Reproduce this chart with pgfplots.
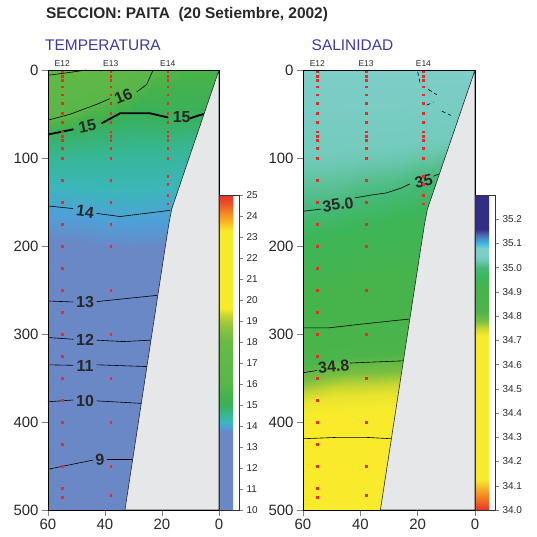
\documentclass[border=0pt]{standalone}
\usepackage{pgfplots}
\pgfplotsset{compat=1.18}
\usepackage{fontspec}
\setmainfont{Liberation Sans}
\definecolor{bathy}{RGB}{230,231,233}
\definecolor{ttl}{RGB}{62,58,155}
\definecolor{dotred}{RGB}{240,40,40}
\definecolor{txt}{RGB}{40,40,40}
\tikzset{
  clab/.style={font=\bfseries\fontsize{16}{16}\selectfont, text=txt, inner sep=0pt},
  stlab/.style={font=\fontsize{8.5}{8.5}\selectfont, text=txt, inner sep=0pt, anchor=base, yshift=3.5bp},
}
\pgfplotsset{
  colormap={temp}{rgb255(0cm)=(106,136,198) rgb255(3.75cm)=(106,136,198) rgb255(3.95cm)=(78,160,216) rgb255(4.2cm)=(60,182,185) rgb255(4.6cm)=(55,182,140) rgb255(5cm)=(58,176,90) rgb255(5.5cm)=(70,178,75) rgb255(6cm)=(88,183,72) rgb255(8cm)=(105,186,68) rgb255(8.8cm)=(150,196,60) rgb255(9.3cm)=(200,215,50) rgb255(9.6cm)=(246,234,42) rgb255(13.3cm)=(246,234,42) rgb255(13.7cm)=(249,185,33) rgb255(14.2cm)=(243,130,36) rgb255(14.6cm)=(237,80,40) rgb255(15cm)=(232,50,42)},
  colormap={sal}{rgb255(0cm)=(232,52,40) rgb255(0.4cm)=(240,110,35) rgb255(0.8cm)=(246,165,35) rgb255(1.2cm)=(247,225,45) rgb255(1.3cm)=(247,235,43) rgb255(7.2cm)=(247,235,43) rgb255(7.5cm)=(200,215,50) rgb255(7.8cm)=(120,190,65) rgb255(8.2cm)=(76,180,75) rgb255(9.2cm)=(70,180,75) rgb255(9.6cm)=(60,182,90) rgb255(10cm)=(70,185,120) rgb255(10.3cm)=(110,200,180) rgb255(10.5cm)=(124,206,200) rgb255(10.8cm)=(125,206,200) rgb255(11cm)=(60,185,230) rgb255(11.3cm)=(75,120,185) rgb255(11.6cm)=(50,45,135) rgb255(13cm)=(50,45,135)},
  sect/.style={
    scale only axis, height=440bp,
    xmin=0, xmax=60, ymin=0, ymax=500,
    x dir=reverse, y dir=reverse,
    xtick={0,20,40,60}, ytick={0,100,200,300,400,500},
    tick align=outside, tick pos=left,
    major tick length=6bp,
    tick style={gray, line width=0.7pt},
    ticklabel style={font=\fontsize{15}{15}\selectfont, text=txt},
    /pgf/number format/assume math mode=true,
    axis line style={black, line width=0.7pt},
    clip=false, axis on top,
  },
  cbar/.style={
    colorbar,
    colorbar style={
      scale only axis, width=20bp, height=315bp,
      at={(1,0)}, anchor=south west, xshift=0bp,
      ytick pos=right, tick align=outside, major tick length=4bp,
      tick style={gray, line width=0.5pt},
      yticklabel style={font=\fontsize{10}{10}\selectfont, text=txt},
      /pgf/number format/assume math mode=true,
      axis line style={black!80, line width=0.5pt},
    },
  },
  cl/.style={black, line width=0.6pt},
  cthick/.style={black, line width=1.8pt},
  cdash/.style={black, line width=0.6pt, dash pattern=on 4bp off 3bp},
  dots/.style={only marks, color=dotred, mark=square*, mark size=0.9bp, mark options={draw=none, fill=dotred}},
}
\begin{document}
\begin{tikzpicture}
\useasboundingbox (0bp,0bp) rectangle (537bp,537bp);
\node[anchor=base west, inner sep=0pt, font=\bfseries\fontsize{15.5}{16}\selectfont, text=txt] at (46bp,518bp) {SECCION: PAITA\ \ (20 Setiembre, 2002)};
\node[anchor=base west, inner sep=0pt, font=\fontsize{15.5}{16}\selectfont, text=ttl] at (45bp,486bp) {TEMPERATURA};
\node[anchor=base west, inner sep=0pt, font=\fontsize{15.5}{16}\selectfont, text=ttl] at (311.5bp,486bp) {SALINIDAD};

% ---------------- TEMPERATURA ----------------
\begin{axis}[sect, cbar, width=171bp, at={(48bp,27bp)}, anchor=south west,
  colormap name=temp, point meta min=10, point meta max=25,
  colorbar style={ytick={10,11,...,25}}]
\addplot[surf, shader=interp, point meta=explicit] table[x=x, y=d, meta=v] {
x d v
60 0 17.25
60 6 17
60 57 16
60 73 15
60 100 14.5
60 155 14
60 188 13.8
60 263 13
60 304 12
60 335 11
60 377 10
60 454 9
60 500 8.5

50 0 17.05
50 2 17
50 50 16
50 67 15
50 100 14.5
50 158 14
50 190 13.8
50 264 13
50 306 12
50 335.5 11
50 375.5 10
50 445 9
50 500 8.4

40 0 16.8
40 0 16.8
40 35 16
40 61 15
40 100 14.5
40 164 14
40 195 13.8
40 264 13
40 307 12
40 335 11
40 376 10
40 443 9
40 500 8.4

30 0 16.5
30 0 16.5
30 22 16
30 49 15
30 95 14.5
30 166 14
30 197 13.8
30 262 13
30 308 12
30 336 11
30 378 10
30 443 9
30 500 8.4

20 0 15.9
20 0 15.9
20 0 15.9
20 52 15
20 95 14.5
20 161 14
20 195 13.8
20 257 13
20 307 12
20 337 11
20 379 10
20 443 9
20 500 8.4

10 0 15.6
10 0 15.6
10 0 15.6
10 52 15
10 90 14.5
10 158 14
10 192 13.8
10 255 13
10 307 12
10 337 11
10 379 10
10 443 9
10 500 8.4

0 0 15.6
0 0 15.6
0 0 15.6
0 52 15
0 90 14.5
0 158 14
0 192 13.8
0 255 13
0 307 12
0 337 11
0 379 10
0 443 9
0 500 8.4
};
% contours
\addplot[cl] coordinates {(60,6) (53,3) (46.4,0)};
\addplot[cl] coordinates {(60,57) (52.3,50.3) (42.9,39) (38.2,32.5)};
\addplot[cl] coordinates {(28.9,25) (25.4,16.6) (23.1,0)};
\addplot[cthick] coordinates {(60,73.3) (51.1,67.4)};
\addplot[cthick] coordinates {(41.2,60.6) (34.7,49.2) (24.2,49.2) (17.8,54)};
\addplot[cthick] coordinates {(10.2,55) (7.5,52) (5.3,50)};
\addplot[cl] coordinates {(60,154.5) (51.1,157.5)};
\addplot[cl] coordinates {(42.9,163) (34.7,166.5) (17.2,159.5)};
\addplot[cl] coordinates {(60,262.5) (51.1,263.6)};
\addplot[cl] coordinates {(42.9,263.2) (21.5,256)};
\addplot[cl] coordinates {(60,304) (51.1,306)};
\addplot[cl] coordinates {(42.9,307) (33.6,308.6) (23.9,307)};
\addplot[cl] coordinates {(60,335) (51.1,335.6)};
\addplot[cl] coordinates {(42.9,335) (25.3,337)};
\addplot[cl] coordinates {(60,377) (51.1,375)};
\addplot[cl] coordinates {(42.9,376) (27.3,378.8)};
\addplot[cl] coordinates {(60,453.7) (44.1,443.2)};
\addplot[cl] coordinates {(39.4,442.6) (30.3,442.6)};
% bathymetry
\addplot[fill=bathy, draw=black!85, line width=0.6pt] coordinates {(0,0) (16.6,158) (17.6,175) (19,204) (33,500) (0,500) (0,0)};
% stations
\addplot[dots] coordinates {(55,2) (55,7) (55,12) (55,19) (55,28) (55,38) (55,49) (55,59) (55,70) (55,75) (55,80) (55,89) (55,100) (55,125) (55,150) (55,175) (55,200) (55,225) (55,250) (55,275) (55,300) (55,325) (55,350) (55,375) (55,400) (55,425) (55,450) (55,475) (55,485)};
\addplot[dots] coordinates {(38,2) (38,7) (38,12) (38,19) (38,28) (38,38) (38,49) (38,59) (38,70) (38,75) (38,80) (38,89) (38,100) (38,125) (38,150) (38,175) (38,200) (38,250) (38,300) (38,350) (38,400) (38,450) (38,483)};
\addplot[dots] coordinates {(18,2) (18,7) (18,12) (18,19) (18,28) (18,38) (18,49) (18,59) (18,70) (18,75) (18,80) (18,89) (18,100) (18,121) (18,130) (18,142) (18,152)};
\node[stlab] at (axis cs:55,0) {E12};
\node[stlab] at (axis cs:38,0) {E13};
\node[stlab] at (axis cs:18,0) {E14};
\node[clab, rotate=22] at (axis cs:33.6,29.5) {16};
\node[clab, rotate=12] at (axis cs:46.2,64) {15};
\node[clab] at (axis cs:13.1,53) {15};
\node[clab, rotate=-8] at (axis cs:47,161) {14};
\node[clab] at (axis cs:47,264) {13};
\node[clab] at (axis cs:47,307) {12};
\node[clab] at (axis cs:47,336) {11};
\node[clab] at (axis cs:47,376) {10};
\node[clab, rotate=4] at (axis cs:41.8,443) {9};
\end{axis}

% ---------------- SALINIDAD ----------------
\begin{axis}[sect, cbar, width=172bp, at={(303bp,27bp)}, anchor=south west,
  colormap name=sal, point meta min=34, point meta max=35.3,
  colorbar style={ytick={34.0,34.1,34.2,34.3,34.4,34.5,34.6,34.7,34.8,34.9,35.0,35.1,35.2},
    yticklabel style={/pgf/number format/.cd, fixed, fixed zerofill, precision=1}}]
\addplot[surf, shader=interp, point meta=explicit] table[x=x, y=d, meta=v] {
x d v
60 0 35.05
60 90 35.04
60 160 35.0
60 195 34.95
60 293 34.9
60 344 34.8
60 378 34.73
60 419 34.7
60 500 34.66

50 0 35.05
50 90 35.04
50 156 35.0
50 192 34.95
50 293 34.9
50 336 34.8
50 372 34.73
50 418 34.7
50 500 34.66

40 0 35.05
40 88 35.04
40 144 35.0
40 185 34.95
40 288 34.9
40 333 34.8
40 370 34.73
40 418 34.7
40 500 34.66

30 0 35.05
30 85 35.04
30 139 35.0
30 178 34.95
30 286 34.9
30 332 34.8
30 368 34.73
30 419 34.7
30 500 34.66

20 0 35.05
20 80 35.04
20 128 35.0
20 168 34.95
20 283 34.9
20 330 34.8
20 368 34.73
20 419 34.7
20 500 34.66

10 0 35.05
10 75 35.04
10 118 35.0
10 160 34.95
10 283 34.9
10 330 34.8
10 368 34.73
10 419 34.7
10 500 34.66

0 0 35.05
0 75 35.04
0 118 35.0
0 160 34.95
0 283 34.9
0 330 34.8
0 368 34.73
0 419 34.7
0 500 34.66
};
\addplot[cl] coordinates {(60,160.5) (53.6,158)};
\addplot[cl] coordinates {(41.9,145.3) (36,142) (30.8,139.6) (25.6,134) (22.7,129.4)};
\addplot[cl] coordinates {(14.5,120.7) (12.4,118)};
\addplot[cdash] coordinates {(20.0,2) (19.2,14)};
\addplot[cdash] coordinates {(16.3,22) (13.4,28)};
\addplot[cdash] coordinates {(16.9,40) (14.5,36.4)};
\addplot[cdash] coordinates {(11.6,46.7) (8.4,51.6)};
\addplot[cl] coordinates {(60,293) (51,293) (38.9,288.5) (22.9,283)};
\addplot[cl] coordinates {(60,344) (55.2,341.5)};
\addplot[cl] coordinates {(43.6,333) (36.6,332) (25.1,330.5)};
\addplot[cl] coordinates {(60,419) (48.3,417.5) (37.8,417.5) (29.2,419)};
\addplot[fill=bathy, draw=black!85, line width=0.6pt] coordinates {(0,0) (16.6,158) (17.6,175) (19,204) (33,500) (0,500) (0,0)};
\addplot[dots] coordinates {(55,2) (55,7) (55,12) (55,19) (55,28) (55,38) (55,49) (55,59) (55,70) (55,75) (55,80) (55,89) (55,100) (55,125) (55,150) (55,175) (55,200) (55,225) (55,250) (55,275) (55,300) (55,325) (55,350) (55,375) (55,400) (55,425) (55,450) (55,475) (55,485)};
\addplot[dots] coordinates {(38,2) (38,7) (38,12) (38,19) (38,28) (38,38) (38,49) (38,59) (38,70) (38,75) (38,80) (38,89) (38,100) (38,125) (38,150) (38,175) (38,200) (38,250) (38,300) (38,350) (38,400) (38,450) (38,483)};
\addplot[dots] coordinates {(18,2) (18,7) (18,12) (18,19) (18,28) (18,38) (18,49) (18,59) (18,70) (18,75) (18,80) (18,89) (18,100) (18,121) (18,130) (18,142) (18,152)};
\node[stlab] at (axis cs:55,0) {E12};
\node[stlab] at (axis cs:38,0) {E13};
\node[stlab] at (axis cs:18,0) {E14};
\node[clab, rotate=8] at (axis cs:47.8,153) {35.0};
\node[clab, rotate=12] at (axis cs:17.9,126) {35};
\node[clab, rotate=5] at (axis cs:49.3,337) {34.8};
\end{axis}
\end{tikzpicture}
\end{document}
